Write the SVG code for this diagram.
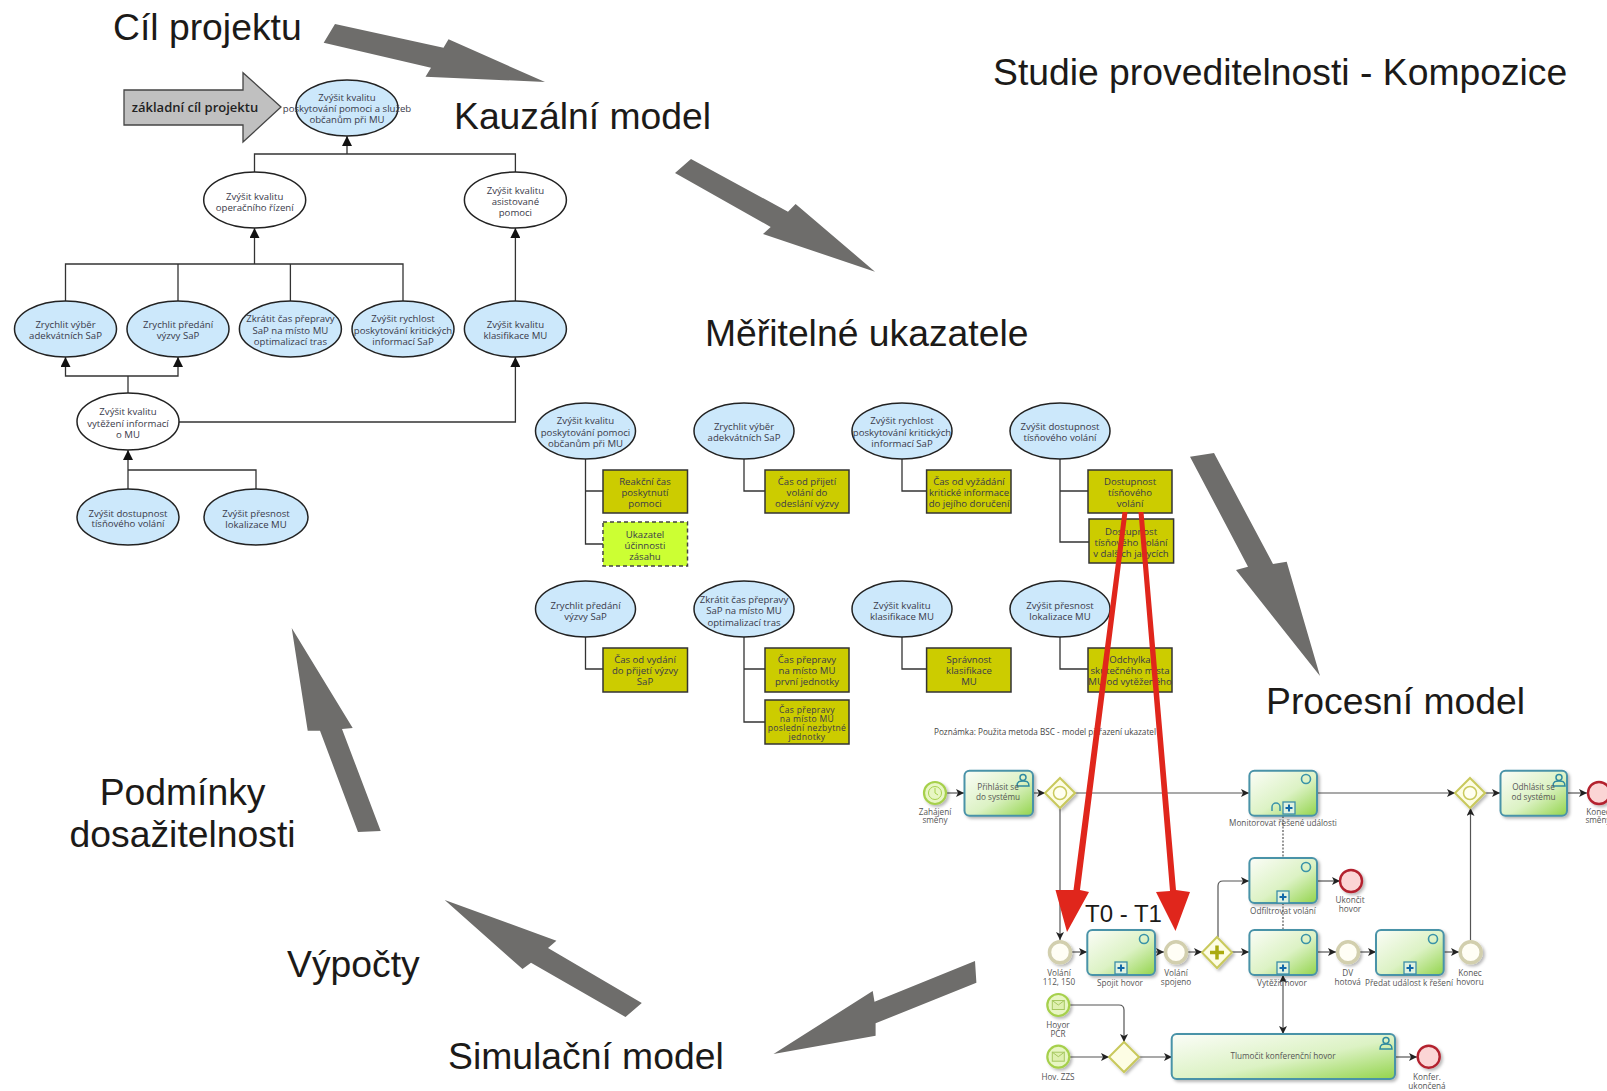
<svg xmlns="http://www.w3.org/2000/svg" xmlns:xlink="http://www.w3.org/1999/xlink" width="1607" height="1091" viewBox="0 0 1607 1091">
<style>
text{font-family:"Open Sans","Liberation Sans",sans-serif}
.big{font-family:"Liberation Sans",Arial,sans-serif;font-size:37.300px;fill:#1c1a18}
.mid{text-anchor:middle}
.s{font-size:9.600px;fill:#3a3a4a;text-anchor:middle;transform:translateY(.7px)}
.s4{font-size:8.600px;letter-spacing:.3px}
.b{font-size:8.200px;fill:#555;text-anchor:middle}
.e{fill:#cce8fb;stroke:#222;stroke-width:1.5}
.w{fill:#fff;stroke:#222;stroke-width:1.5}
.r{fill:#cccc00;stroke:#333;stroke-width:1.5}
.d{fill:#ccff33;stroke:#444;stroke-width:1.5;stroke-dasharray:4 3}
.l{fill:none;stroke:#333;stroke-width:1.3}
.f{fill:none;stroke:#555;stroke-width:1.2}
.g{fill:#6e6d6b}
.red{fill:#e0261c}
.task{fill:url(#tg);stroke:#4a93a8;stroke-width:2}
.ev{fill:#fffef5;stroke:#d2cfae;stroke-width:3.500}
.st{fill:#e8f6c4;stroke:#a6d04c;stroke-width:2.200}
.en{fill:#fbd5d5;stroke:#b3202e;stroke-width:2.400}
.gw{fill:#fdfde4;stroke:#c9c95c;stroke-width:2}
</style>
<defs>
<marker id="a" viewBox="0 0 10 10" refX="10" refY="5" markerUnits="userSpaceOnUse" markerWidth="10" markerHeight="10" orient="auto"><path d="M0 0L10 5L0 10Z" fill="#111"/></marker>
<marker id="as" viewBox="0 0 10 10" refX="10" refY="5" markerUnits="userSpaceOnUse" markerWidth="8" markerHeight="8" orient="auto-start-reverse"><path d="M0 0L10 5L0 10L2.500 5Z" fill="#222"/></marker>
<linearGradient id="tg" x1="0" y1="0" x2="1" y2="1"><stop offset="0" stop-color="#fbfdf8"/><stop offset=".55" stop-color="#dcf2c4"/><stop offset="1" stop-color="#93d44c"/></linearGradient>
<filter id="sh" x="-20%" y="-20%" width="150%" height="150%"><feDropShadow dx="2" dy="2" stdDeviation="1.500" flood-color="#000" flood-opacity=".28"/></filter>
<g id="pl"><rect x="-6" y="-6" width="12" height="12" fill="#dff2e0" stroke="#3c8ea8" stroke-width="1.300"/><path d="M-3.500 0H3.500M0 -3.500V3.500" stroke="#1368a8" stroke-width="2"/></g>
<g id="us" fill="none" stroke="#2f8aa0" stroke-width="1.500"><circle cx="0" cy="-3.500" r="3"/><path d="M-6 5C-6 0 -3 0 0 0C3 0 6 0 6 5Z"/></g>
<circle id="ci" r="4.500" fill="none" stroke="#3a93a8" stroke-width="1.600"/>
<g id="env" fill="#dff0b0" stroke="#a6c860" stroke-width="1"><rect x="-6" y="-4.500" width="12" height="9"/><path d="M-6 -4.500L0 0L6 -4.500" fill="none"/></g>
</defs>
<rect width="1607" height="1091" fill="#fff"/>

<g id="connectors">
<path class="l" d="M254.500 173V154H515.400V173"/>
<path class="l" d="M347 154V136" marker-end="url(#a)"/>
<path class="l" d="M65.500 301V264H403V301M178 301V264M290.400 301V264"/>
<path class="l" d="M254.500 264V228" marker-end="url(#a)"/>
<path class="l" d="M515.400 301V228" marker-end="url(#a)"/>
<path class="l" d="M128 393V376"/>
<path class="l" d="M128 376H65.500V357" marker-end="url(#a)"/>
<path class="l" d="M128 376H178V357" marker-end="url(#a)"/>
<path class="l" d="M179 422H515.400V357" marker-end="url(#a)"/>
<path class="l" d="M128 489V450" marker-end="url(#a)"/>
<path class="l" d="M128 470H256V489"/>
<path class="l" d="M585.500 459V544H603M585.500 491H603"/>
<path class="l" d="M744 459V491H765"/>
<path class="l" d="M902 459V491H927"/>
<path class="l" d="M1060 459V542H1089M1060 491H1088"/>
<path class="l" d="M585.500 637V669H603"/>
<path class="l" d="M744 637V722H765M744 669H765"/>
<path class="l" d="M902 637V669H927"/>
<path class="l" d="M1060 637V669H1088"/>

<path class="f" d="M947 793H964" marker-end="url(#as)"/>
<path class="f" d="M1033 793H1045" marker-end="url(#as)"/>
<path class="f" d="M1075 793H1249" marker-end="url(#as)"/>
<path class="f" d="M1317 793H1455" marker-end="url(#as)"/>
<path class="f" d="M1485 793H1500" marker-end="url(#as)"/>
<path class="f" d="M1567 793H1587" marker-end="url(#as)"/>
<path class="f" d="M1060 808V940" marker-end="url(#as)"/>
<path class="f" d="M1072 952H1087" marker-end="url(#as)"/>
<path class="f" d="M1155 952H1164" marker-end="url(#as)"/>
<path class="f" d="M1188 952H1202" marker-end="url(#as)"/>
<path class="f" d="M1232 952H1249" marker-end="url(#as)"/>
<path class="f" d="M1317 952H1336" marker-end="url(#as)"/>
<path class="f" d="M1360 952H1376" marker-end="url(#as)"/>
<path class="f" d="M1444 952H1459" marker-end="url(#as)"/>
<path class="f" d="M1218 937V886Q1218 881 1223 881H1249" marker-end="url(#as)"/>
<path class="f" d="M1317 881H1340" marker-end="url(#as)"/>
<path class="f" d="M1470.500 940V808" marker-end="url(#as)"/>
<path class="f" d="M1283 816V858M1283 903V930" stroke-dasharray="2 1.500"/>
<path class="f" d="M1283 975V1034" marker-start="url(#as)" marker-end="url(#as)"/>
<path class="f" d="M1070 1005H1119Q1124 1005 1124 1010V1042" marker-end="url(#as)"/>
<path class="f" d="M1070 1057H1109" marker-end="url(#as)"/>
<path class="f" d="M1139 1057H1172" marker-end="url(#as)"/>
<path class="f" d="M1395 1057H1417" marker-end="url(#as)"/>

<path id="flow-1" class="g" d="M335 24L443.500 47.700L448.500 39.300L545 82L425.500 76.700L431 67.700L323.700 42.700Z"/>
<path id="flow-2" class="g" d="M691 159L788 211.700L795.600 204L875 271.700L763 234L770.700 227L675 173Z"/>
<path id="flow-3" class="g" d="M1190 456.700L1214 453L1273 564L1286.700 561.700L1320 676L1236 570L1248 566.700Z"/>
<path id="flow-4" class="g" d="M975 961L874.500 1001.700L872.700 991L773.500 1054L875.600 1035.700L875.600 1023.300L976.400 982.700Z"/>
<path id="flow-5" class="g" d="M641.800 1003L548 948L556.400 940.700L444.700 900L522.500 969L531 962.700L625.500 1017Z"/>
<path id="flow-6" class="g" d="M291.700 628L352.700 728L342 729L380.700 831L358 832L320 730.700L307.700 730.700Z"/>
</g>

<g id="goal-arrow"><path d="M124 90H243V72.700L281 107L243 142V125H124Z" fill="#c0c0c0" stroke="#444" stroke-width="1.300"/><text x="195" y="112" font-size="13" font-weight="600" fill="#222" text-anchor="middle">základní cíl projektu</text></g>

<g id="n1"><ellipse class="e" cx="347" cy="108" rx="51" ry="28"/><text class="s"><tspan x="347" y="100">Zvýšit kvalitu</tspan><tspan x="347" y="111.500">poskytování pomoci a služeb</tspan><tspan x="347" y="122">občanům při MU</tspan></text></g>
<g id="n2"><ellipse class="w" cx="254.700" cy="200" rx="51" ry="28"/><text class="s"><tspan x="254.700" y="199">Zvýšit kvalitu</tspan><tspan x="254.700" y="210">operačního řízení</tspan></text></g>
<g id="n3"><ellipse class="w" cx="515.400" cy="200" rx="51" ry="28"/><text class="s"><tspan x="515.400" y="193">Zvýšit kvalitu</tspan><tspan x="515.400" y="204">asistované</tspan><tspan x="515.400" y="215">pomoci</tspan></text></g>
<g id="n4"><ellipse class="e" cx="65.500" cy="329" rx="51" ry="28"/><text class="s"><tspan x="65.500" y="327">Zrychlit výběr</tspan><tspan x="65.500" y="338">adekvátních SaP</tspan></text></g>
<g id="n5"><ellipse class="e" cx="178" cy="329" rx="51" ry="28"/><text class="s"><tspan x="178" y="327">Zrychlit předání</tspan><tspan x="178" y="338">výzvy SaP</tspan></text></g>
<g id="n6"><ellipse class="e" cx="290.400" cy="329" rx="51" ry="28"/><text class="s"><tspan x="290.400" y="321">Zkrátit čas přepravy</tspan><tspan x="290.400" y="333">SaP na místo MU</tspan><tspan x="290.400" y="344">optimalizací tras</tspan></text></g>
<g id="n7"><ellipse class="e" cx="403" cy="329" rx="51" ry="28"/><text class="s"><tspan x="403" y="321">Zvýšit rychlost</tspan><tspan x="403" y="333">poskytování kritických</tspan><tspan x="403" y="344">informací SaP</tspan></text></g>
<g id="n8"><ellipse class="e" cx="515.400" cy="329" rx="51" ry="28"/><text class="s"><tspan x="515.400" y="327">Zvýšit kvalitu</tspan><tspan x="515.400" y="338">klasifikace MU</tspan></text></g>
<g id="n9"><ellipse class="w" cx="128" cy="421.500" rx="51" ry="28.500"/><text class="s"><tspan x="128" y="414">Zvýšit kvalitu</tspan><tspan x="128" y="426">vytěžení informací</tspan><tspan x="128" y="437">o MU</tspan></text></g>
<g id="n10"><ellipse class="e" cx="128" cy="517" rx="51" ry="28"/><text class="s"><tspan x="128" y="516">Zvýšit dostupnost</tspan><tspan x="128" y="526">tísňového volání</tspan></text></g>
<g id="n11"><ellipse class="e" cx="256" cy="517" rx="52" ry="28"/><text class="s"><tspan x="256" y="516">Zvýšit přesnost</tspan><tspan x="256" y="527">lokalizace MU</tspan></text></g>

<g id="m1"><ellipse class="e" cx="585.500" cy="431" rx="50" ry="28"/><text class="s"><tspan x="585.500" y="423">Zvýšit kvalitu</tspan><tspan x="585.500" y="435">poskytování pomoci</tspan><tspan x="585.500" y="446">občanům při MU</tspan></text></g>
<g id="m2"><ellipse class="e" cx="744" cy="431" rx="50" ry="28"/><text class="s"><tspan x="744" y="429">Zrychlit výběr</tspan><tspan x="744" y="440">adekvátních SaP</tspan></text></g>
<g id="m3"><ellipse class="e" cx="902" cy="431" rx="50" ry="28"/><text class="s"><tspan x="902" y="423">Zvýšit rychlost</tspan><tspan x="902" y="435">poskytování kritických</tspan><tspan x="902" y="446">informací SaP</tspan></text></g>
<g id="m4"><ellipse class="e" cx="1060" cy="431" rx="50" ry="28"/><text class="s"><tspan x="1060" y="429">Zvýšit dostupnost</tspan><tspan x="1060" y="440">tísňového volání</tspan></text></g>
<g id="k1"><rect class="r" x="603" y="470" width="84.500" height="43"/><text class="s"><tspan x="645" y="484">Reakční čas</tspan><tspan x="645" y="495">poskytnutí</tspan><tspan x="645" y="506">pomoci</tspan></text></g>
<g id="k2"><rect class="d" x="603" y="522" width="84.500" height="44"/><text class="s"><tspan x="645" y="537">Ukazatel</tspan><tspan x="645" y="548">účinnosti</tspan><tspan x="645" y="559">zásahu</tspan></text></g>
<g id="k3"><rect class="r" x="765" y="470" width="84" height="43"/><text class="s"><tspan x="807" y="484">Čas od přijetí</tspan><tspan x="807" y="495">volání do</tspan><tspan x="807" y="506">odeslání výzvy</tspan></text></g>
<g id="k4"><rect class="r" x="926.600" y="470" width="84.400" height="43"/><text class="s"><tspan x="969" y="484">Čas od vyžádání</tspan><tspan x="969" y="495">kritické informace</tspan><tspan x="969" y="506">do jejího doručení</tspan></text></g>
<g id="k5"><rect class="r" x="1088" y="470" width="84" height="43"/><text class="s"><tspan x="1130" y="484">Dostupnost</tspan><tspan x="1130" y="495">tísňového</tspan><tspan x="1130" y="506">volání</tspan></text></g>
<g id="k6"><rect class="r" x="1089" y="519" width="84.600" height="44"/><text class="s"><tspan x="1131" y="534">Dostupnost</tspan><tspan x="1131" y="545">tísňového volání</tspan><tspan x="1131" y="556">v dalších jazycích</tspan></text></g>

<g id="m5"><ellipse class="e" cx="585.500" cy="609" rx="50" ry="28"/><text class="s"><tspan x="585.500" y="608">Zrychlit předání</tspan><tspan x="585.500" y="619">výzvy SaP</tspan></text></g>
<g id="m6"><ellipse class="e" cx="744" cy="609" rx="50" ry="28"/><text class="s"><tspan x="744" y="602">Zkrátit čas přepravy</tspan><tspan x="744" y="613">SaP na místo MU</tspan><tspan x="744" y="625">optimalizací tras</tspan></text></g>
<g id="m7"><ellipse class="e" cx="902" cy="609" rx="50" ry="28"/><text class="s"><tspan x="902" y="608">Zvýšit kvalitu</tspan><tspan x="902" y="619">klasifikace MU</tspan></text></g>
<g id="m8"><ellipse class="e" cx="1060" cy="609" rx="50" ry="28"/><text class="s"><tspan x="1060" y="608">Zvýšit přesnost</tspan><tspan x="1060" y="619">lokalizace MU</tspan></text></g>
<g id="k7"><rect class="r" x="603" y="648" width="84.500" height="44"/><text class="s"><tspan x="645" y="662">Čas od vydání</tspan><tspan x="645" y="673">do přijetí výzvy</tspan><tspan x="645" y="684">SaP</tspan></text></g>
<g id="k8"><rect class="r" x="765" y="648" width="84" height="44"/><text class="s"><tspan x="807" y="662">Čas přepravy</tspan><tspan x="807" y="673">na místo MU</tspan><tspan x="807" y="684">první jednotky</tspan></text></g>
<g id="k9"><rect class="r" x="765" y="700" width="84" height="44"/><text class="s s4"><tspan x="807" y="712">Čas přepravy</tspan><tspan x="807" y="721">na místo MU</tspan><tspan x="807" y="730">poslední nezbytné</tspan><tspan x="807" y="739">jednotky</tspan></text></g>
<g id="k10"><rect class="r" x="926.600" y="648" width="84.400" height="44"/><text class="s"><tspan x="969" y="662">Správnost</tspan><tspan x="969" y="673">klasifikace</tspan><tspan x="969" y="684">MU</tspan></text></g>
<g id="k11"><rect class="r" x="1088" y="648" width="84" height="44"/><text class="s"><tspan x="1130" y="662">Odchylka</tspan><tspan x="1130" y="673">skutečného místa</tspan><tspan x="1130" y="684">MU od vytěženého</tspan></text></g>
<text x="934" y="735" font-size="8.300" fill="#444" textLength="222" lengthAdjust="spacingAndGlyphs">Poznámka: Použita metoda BSC - model přiřazení ukazatel</text>

<g id="b-start"><circle class="st" cx="935" cy="793" r="11" filter="url(#sh)"/><circle cx="935" cy="793" r="6.500" fill="none" stroke="#a6d04c"/><path d="M935 788V793L938 795" fill="none" stroke="#a6d04c"/><text class="b"><tspan x="935" y="815">Zahájení</tspan><tspan x="935" y="823">směny</tspan></text></g>
<g id="b-t1"><rect class="task" x="964.500" y="770.700" width="68.500" height="45" rx="5" filter="url(#sh)"/><use href="#us" x="1023" y="781"/><text class="b"><tspan x="998" y="790">Přihlásit se</tspan><tspan x="998" y="800">do systému</tspan></text></g>
<g id="b-g1"><path class="gw" d="M1060 778L1075 793L1060 808L1045 793Z" filter="url(#sh)"/><circle cx="1060" cy="793" r="6.500" fill="#fffff0" stroke="#c9c95c" stroke-width="1.500"/></g>
<g id="b-t2"><rect class="task" x="1249.400" y="770.700" width="67.600" height="45" rx="5" filter="url(#sh)"/><use href="#ci" x="1306" y="779"/><use href="#pl" x="1289" y="808"/><path d="M1272 811V807A4 4 0 0 1 1280 807V811" fill="none" stroke="#3a93a8" stroke-width="1.500"/><text class="b" x="1283" y="826">Monitorovat řešené události</text></g>
<g id="b-g2"><path class="gw" d="M1470 778L1485 793L1470 808L1455 793Z" filter="url(#sh)"/><circle cx="1470" cy="793" r="6.500" fill="#fffff0" stroke="#c9c95c" stroke-width="1.500"/></g>
<g id="b-t3"><rect class="task" x="1500.500" y="770.700" width="66.500" height="45" rx="5" filter="url(#sh)"/><use href="#us" x="1559" y="781"/><text class="b"><tspan x="1533.500" y="790">Odhlásit se</tspan><tspan x="1533.500" y="800">od systému</tspan></text></g>
<g id="b-end"><circle class="en" cx="1599" cy="793" r="11" filter="url(#sh)"/><text class="b"><tspan x="1598" y="815">Konec</tspan><tspan x="1598" y="823">směny</tspan></text></g>
<g id="b-t4"><rect class="task" x="1249.400" y="858" width="67.600" height="45" rx="5" filter="url(#sh)"/><use href="#ci" x="1306" y="867"/><use href="#pl" x="1283" y="897"/><text class="b" x="1283" y="914">Odfiltrovat volání</text></g>
<g id="b-end2"><circle class="en" cx="1351" cy="881" r="11" filter="url(#sh)"/><text class="b"><tspan x="1350" y="903">Ukončit</tspan><tspan x="1350" y="912">hovor</tspan></text></g>
<g id="b-e1"><circle class="ev" cx="1060" cy="952.300" r="10.500" filter="url(#sh)"/><text class="b"><tspan x="1059" y="976">Volání</tspan><tspan x="1059" y="985">112, 150</tspan></text></g>
<g id="b-t5"><rect class="task" x="1087.300" y="930" width="67.700" height="45" rx="5" filter="url(#sh)"/><use href="#ci" x="1144" y="939"/><use href="#pl" x="1121" y="968"/><text class="b" x="1120" y="986">Spojit hovor</text></g>
<g id="b-e2"><circle class="ev" cx="1176" cy="952.300" r="10.500" filter="url(#sh)"/><text class="b"><tspan x="1176" y="976">Volání</tspan><tspan x="1176" y="985">spojeno</tspan></text></g>
<g id="b-g3"><path class="gw" d="M1217 937L1232 952.500L1217 968L1202 952.500Z" filter="url(#sh)"/><path d="M1210 952.500H1224M1217 945.500V959.500" stroke="#aaaa10" stroke-width="3.500"/></g>
<g id="b-t6"><rect class="task" x="1249.400" y="930" width="67.600" height="45" rx="5" filter="url(#sh)"/><use href="#ci" x="1306" y="939"/><use href="#pl" x="1283" y="968"/><text class="b" x="1282" y="986">Vytěžit hovor</text></g>
<g id="b-e3"><circle class="ev" cx="1348" cy="952.300" r="10.500" filter="url(#sh)"/><text class="b"><tspan x="1347.700" y="976">DV</tspan><tspan x="1347.700" y="985">hotová</tspan></text></g>
<g id="b-t7"><rect class="task" x="1376" y="930" width="67.700" height="45" rx="5" filter="url(#sh)"/><use href="#ci" x="1433" y="939"/><use href="#pl" x="1410" y="968"/><text class="b" x="1409" y="986">Předat událost k řešení</text></g>
<g id="b-e4"><circle class="ev" cx="1470.700" cy="952.300" r="10.500" filter="url(#sh)"/><text class="b"><tspan x="1470" y="976">Konec</tspan><tspan x="1470" y="985">hovoru</tspan></text></g>
<g id="b-s2"><circle class="st" cx="1058.300" cy="1005" r="11" filter="url(#sh)"/><use href="#env" x="1058.300" y="1005"/><text class="b"><tspan x="1058" y="1028">Hovor</tspan><tspan x="1058" y="1037">PČR</tspan></text></g>
<g id="b-s3"><circle class="st" cx="1058.300" cy="1056.700" r="11" filter="url(#sh)"/><use href="#env" x="1058.300" y="1056.700"/><text class="b" x="1058" y="1080">Hov. ZZS</text></g>
<g id="b-g4"><path class="gw" d="M1124 1042L1139 1057L1124 1072L1109 1057Z" filter="url(#sh)"/></g>
<g id="b-t8"><rect class="task" x="1171.700" y="1034" width="223.300" height="45" rx="5" filter="url(#sh)"/><use href="#us" x="1386" y="1044"/><text class="b" x="1283" y="1059">Tlumočit konferenční hovor</text></g>
<g id="b-end3"><circle class="en" cx="1428.700" cy="1056.700" r="11" filter="url(#sh)"/><text class="b"><tspan x="1427" y="1080">Konfer.</tspan><tspan x="1427" y="1089">ukončená</tspan></text></g>

<g id="red-arrows">
<path class="red" d="M1122.500 512L1127.500 512L1080 890L1089 892L1067 932L1055.500 890L1073.500 890Z"/>
<path class="red" d="M1138.500 512L1143.500 512L1176 890L1190 892L1175.500 931L1156 892L1170 891Z"/>
</g>

<g id="labels">
<text class="big" x="113" y="40">Cíl projektu</text>
<text class="big" x="454" y="129">Kauzální model</text>
<text class="big" x="993" y="85">Studie proveditelnosti - Kompozice</text>
<text class="big" x="705" y="346">Měřitelné ukazatele</text>
<text class="big" x="1266" y="714">Procesní model</text>
<text class="big mid" x="182.600" y="805">Podmínky</text>
<text class="big mid" x="182.600" y="847">dosažitelnosti</text>
<text class="big" x="287" y="977">Výpočty</text>
<text class="big" x="448" y="1069">Simulační model</text>
<text class="big" x="1085" y="922" style="font-size:24px">T0 - T1</text>
</g>
</svg>
